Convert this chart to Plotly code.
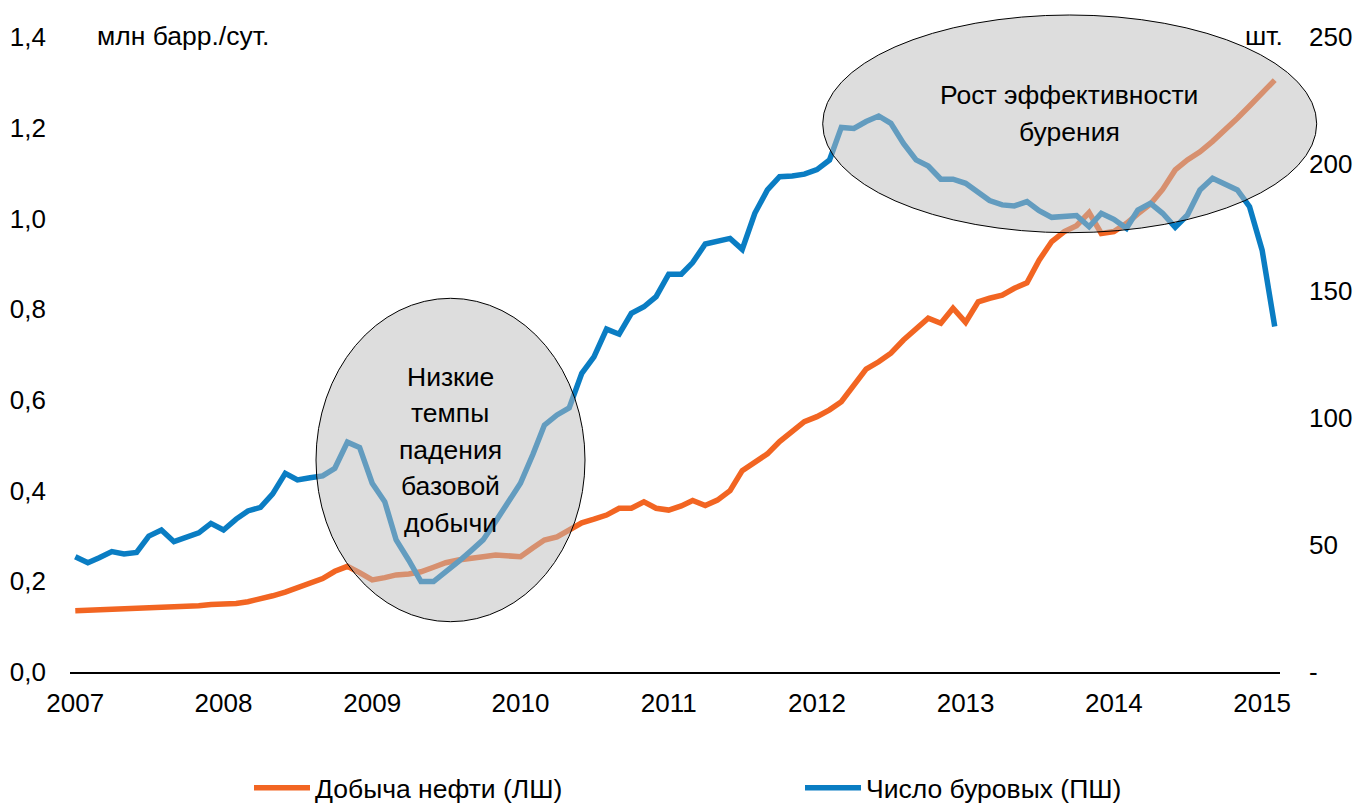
import pandas as pd
import plotly.graph_objects as go

# ---- data ----
months = pd.date_range("2007-01-01", periods=98, freq="MS")

oil_production = [  # млн барр./сут. (left axis)
    0.135, 0.136, 0.137, 0.137, 0.140, 0.140, 0.141, 0.143, 0.144, 0.146, 0.146, 0.149,
    0.150, 0.151, 0.155, 0.161, 0.168, 0.176, 0.186, 0.194, 0.206, 0.222, 0.233, 0.219,
    0.203, 0.208, 0.214, 0.216, 0.221, 0.231, 0.241, 0.247, 0.252, 0.254, 0.258, 0.256,
    0.254, 0.274, 0.291, 0.298, 0.315, 0.329, 0.337, 0.346, 0.361, 0.361, 0.375, 0.361,
    0.357, 0.366, 0.378, 0.367, 0.379, 0.400, 0.444, 0.461, 0.481, 0.508, 0.530, 0.552,
    0.563, 0.578, 0.596, 0.633, 0.668, 0.684, 0.703, 0.732, 0.758, 0.780, 0.769, 0.802,
    0.771, 0.816, 0.824, 0.831, 0.846, 0.858, 0.908, 0.949, 0.971, 0.984, 1.013, 0.967,
    0.971, 0.989, 1.010, 1.032, 1.064, 1.107, 1.129, 1.147, 1.170, 1.194, 1.221, 1.248,
    1.275, 1.305,
]

rig_count = [  # шт. (right axis)
    45.4, 43.0, 45.0, 47.4, 46.5, 47.1, 53.5, 55.9, 51.3, 53.0, 54.8, 58.5,
    55.9, 60.2, 63.4, 64.8, 70.1, 78.2, 75.6, 76.5, 77.2, 80.2, 90.5, 88.4,
    74.3, 67.0, 52.0, 44.0, 35.6, 35.6, 39.2, 43.4, 47.7, 52.0, 59.3, 66.8,
    74.3, 85.8, 97.2, 101.2, 104.0, 117.6, 124.1, 135.0, 133.0, 141.2, 143.8, 147.8,
    156.6, 156.6, 161.2, 168.5, 169.7, 170.7, 166.4, 180.6, 189.8, 195.0, 195.3, 196.0,
    197.8, 201.6, 214.4, 214.0, 216.7, 218.9, 216.0, 208.1, 201.6, 199.2, 194.0, 194.0,
    192.4, 188.5, 185.6, 183.9, 183.5, 185.2, 181.6, 179.0, 179.3, 179.7, 175.3, 180.6,
    178.2, 174.7, 181.9, 184.5, 180.6, 175.1, 179.9, 189.8, 194.4, 192.0, 189.8, 183.2,
    166.1, 136.0,
]

series_names = ["Добыча нефти (ЛШ)", "Число буровых (ПШ)"]
left_ticks = [0.0, 0.2, 0.4, 0.6, 0.8, 1.0, 1.2, 1.4]
right_tickvals = [0, 50, 100, 150, 200, 250]
right_ticktext = ["-", "50", "100", "150", "200", "250"]
x_tickvals = [f"{y}-01-01" for y in range(2007, 2016)]
x_ticktext = [str(y) for y in range(2007, 2016)]

note_low_lines = ["Низкие", "темпы", "падения", "базовой", "добычи"]
note_eff_lines = ["Рост эффективности", "бурения"]
left_unit = "млн барр./сут."
right_unit = "шт."

# ---- figure ----
FONT = "Liberation Sans, Arial, sans-serif"
ORANGE = "#F26522"
BLUE = "#0A7DC3"
TICK_SIZE = 26
NOTE_SIZE = 26.5

fig = go.Figure()
fig.add_trace(go.Scatter(x=months, y=oil_production, name=series_names[0],
                         mode="lines", line=dict(color=ORANGE, width=5.5), yaxis="y"))
fig.add_trace(go.Scatter(x=months, y=rig_count, name=series_names[1],
                         mode="lines", line=dict(color=BLUE, width=5.5), yaxis="y2"))

W, H = 1359, 805
L, R, T, B = 70, 79, 37, 133
pw, ph = W - L - R, H - T - B

def px(x):
    return (x - L) / pw

def py(y):
    return (H - B - y) / ph

shapes = [
    dict(type="circle", xref="paper", yref="paper",
         x0=px(316), x1=px(585), y0=py(621.7), y1=py(298.3),
         fillcolor="rgba(187,187,187,0.5)", line=dict(color="black", width=1), layer="above"),
    dict(type="circle", xref="paper", yref="paper",
         x0=px(822.7), x1=px(1316.7), y0=py(232.7), y1=py(15),
         fillcolor="rgba(187,187,187,0.5)", line=dict(color="black", width=1), layer="above"),
]

annotations = []
for i, t in enumerate(note_low_lines):
    annotations.append(dict(text=t, xref="paper", yref="paper", x=px(450), y=py(376.7 + 36.6 * i),
                            showarrow=False, xanchor="center", yanchor="middle",
                            font=dict(size=NOTE_SIZE, color="black", family=FONT)))
for i, t in enumerate(note_eff_lines):
    annotations.append(dict(text=t, xref="paper", yref="paper", x=px(1069), y=py(95 + 36.6 * i),
                            showarrow=False, xanchor="center", yanchor="middle",
                            font=dict(size=NOTE_SIZE, color="black", family=FONT)))
annotations.append(dict(text=left_unit, xref="paper", yref="paper", x=px(95), y=py(36),
                        showarrow=False, xanchor="left", yanchor="middle",
                        font=dict(size=NOTE_SIZE, color="black", family=FONT)))
annotations.append(dict(text=right_unit, xref="paper", yref="paper", x=px(1285), y=py(36),
                        showarrow=False, xanchor="right", yanchor="middle",
                        font=dict(size=NOTE_SIZE, color="black", family=FONT)))

fig.update_layout(
    width=W, height=H,
    margin=dict(l=L, r=R, t=T, b=B, autoexpand=False),
    paper_bgcolor="white", plot_bgcolor="white",
    font=dict(family=FONT, size=TICK_SIZE, color="black"),
    separators=", ",
    showlegend=True,
    legend=dict(orientation="h", x=px(249), y=py(764), xanchor="left", yanchor="top",
                entrywidth=480, entrywidthmode="pixels", itemwidth=56,
                font=dict(size=NOTE_SIZE, color="black", family=FONT), bgcolor="rgba(0,0,0,0)"),
    xaxis=dict(type="date", range=["2006-12-19", "2015-02-14"],
               tickvals=x_tickvals, ticktext=x_ticktext,
               showgrid=False, zeroline=False, showline=True, linecolor="black", linewidth=1.5,
               ticks="", ticklabelstandoff=7),
    yaxis=dict(range=[0, 1.4], tickvals=left_ticks, tickformat=".1f",
               showgrid=False, zeroline=False, showline=False, ticks="", ticklabelstandoff=23),
    yaxis2=dict(range=[0, 250], overlaying="y", side="right",
                tickvals=right_tickvals, ticktext=right_ticktext,
                showgrid=False, zeroline=False, showline=False, ticks="", ticklabelstandoff=28),
    shapes=shapes,
    annotations=annotations,
)

fig.write_html("out.html", config={"displayModeBar": False},
               post_script="document.body.style.margin='0';document.body.style.overflow='hidden';")
